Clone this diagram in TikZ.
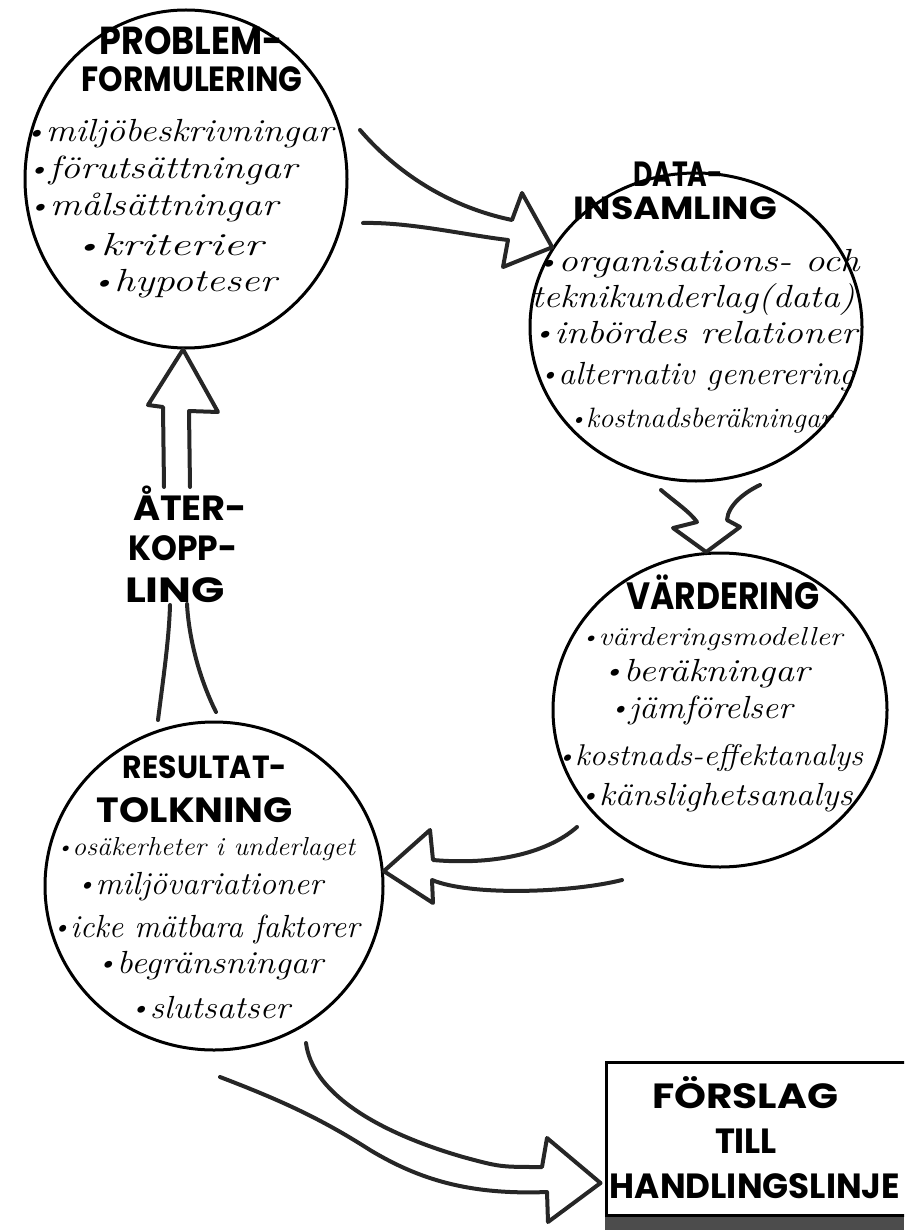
\documentclass[tikz,border=0pt]{standalone}
\usepackage{fontspec}
\usepackage{graphicx}
\usetikzlibrary{shapes.geometric,calc}
\newfontfamily\headfont{Poppins}
\newcommand{\itemfont}[1]{\fontsize{#1}{#1}\selectfont\itshape}
\newcommand{\capsfont}[1]{\fontsize{#1}{#1}\selectfont\headfont\bfseries}
\newcommand{\fitto}[2]{\resizebox{#1pt}{\height}{#2}}
\newcommand{\pt}{\raisebox{0.15ex}{\scalebox{0.75}{\textbullet}}}

\begin{document}
\begin{tikzpicture}[x=1pt,y=-1pt,
    ring/.style={draw,line width=3pt,ellipse,inner sep=0pt},
    entry/.style={anchor=base,inner sep=0pt,font=\itemfont{32}},
    heading/.style={anchor=base,inner sep=0pt,font=\capsfont{35}},
    fat/.style={draw=black!85,line width=4pt,line join=round,line cap=round}
]
\clip (0,0) rectangle (904,1230);
% the four stages and the result box
\node[ring,minimum width=322pt,minimum height=338pt] (problem) at (186,179) {};
\node[ring,minimum width=332pt,minimum height=308pt] (data) at (696,327) {};
\node[ring,minimum width=334pt,minimum height=314pt] (vard) at (720,710) {};
\node[ring,minimum width=338pt,minimum height=328pt] (result) at (214,886) {};
\node[draw,line width=3pt,minimum width=314pt,minimum height=153pt,inner sep=0pt] (forslag) at (763,1139) {};
\fill[black!70] (forslag.south west) rectangle (904,1230);

% problemformulering
\node[heading,font=\capsfont{39}] (p-h1) at (191,55) {\fitto{183}{PROBLEM-}};
\node[heading] (p-h2) at (192,92) {\fitto{221}{FORMULERING}};
\node[entry] (p-1) at (179,142) {\fitto{308}{\pt miljöbeskrivningar}};
\node[entry] (p-2) at (162,179) {\fitto{270}{\pt förutsättningar}};
\node[entry] (p-3) at (153,216) {\fitto{250}{\pt målsättningar}};
\node[entry] (p-4) at (169,256) {\fitto{188}{\pt kriterier}};
\node[entry] (p-5) at (184,292) {\fitto{185}{\pt hypoteser}};

% datainsamling
\node[heading] (d-h1) at (678,187) {\fitto{90}{DATA-}};
\node[heading,font=\capsfont{32}] (d-h2) at (675,220) {\fitto{204}{INSAMLING}};
\node[entry] (d-1) at (698,272) {\fitto{323}{\pt organisations- och}};
\node[entry] (d-2) at (693,307) {\fitto{323}{teknikunderlag(data)}};
\node[entry] (d-3) at (695,343) {\fitto{324}{\pt inbördes relationer}};
\node[entry] (d-4) at (697,384) {\fitto{315}{\pt alternativ generering}};
\node[entry,font=\itemfont{28}] (d-5) at (701,427) {\fitto{262}{\pt kostnadsberäkningar}};

% värdering
\node[heading,font=\capsfont{38}] (v-h1) at (723,609) {\fitto{193}{VÄRDERING}};
\node[entry,font=\itemfont{26}] (v-1) at (712,645) {\fitto{261}{\pt värderingsmodeller}};
\node[entry] (v-2) at (706,681) {\fitto{207}{\pt beräkningar}};
\node[entry] (v-3) at (701,718) {\fitto{183}{\pt jämförelser}};
\node[entry,font=\itemfont{30}] (v-4) at (710,765) {\fitto{306}{\pt kostnads-effektanalys}};
\node[entry] (v-5) at (716,805) {\fitto{273}{\pt känslighetsanalys}};

% resultattolkning
\node[heading,font=\capsfont{32}] (r-h1) at (205,778) {\fitto{164}{RESULTAT-}};
\node[heading] (r-h2) at (195,822) {\fitto{196}{TOLKNING}};
\node[entry,font=\itemfont{26}] (r-1) at (206,855) {\fitto{298}{\pt osäkerheter i underlaget}};
\node[entry] (r-2) at (200,894) {\fitto{246}{\pt miljövariationer}};
\node[entry] (r-3) at (206,937) {\fitto{307}{\pt icke mätbara faktorer}};
\node[entry] (r-4) at (210,973) {\fitto{226}{\pt begränsningar}};
\node[entry] (r-5) at (210,1018) {\fitto{160}{\pt slutsatser}};

% återkoppling
\node[heading] (k-1) at (190,520) {\fitto{114}{ÅTER-}};
\node[heading] (k-2) at (183,560) {\fitto{109}{KOPP-}};
\node[heading] (k-3) at (175,602) {\fitto{100}{LING}};

% förslag
\node[heading] (f-1) at (745,1108) {\fitto{186}{FÖRSLAG}};
\node[heading] (f-2) at (746,1153) {\fitto{62}{TILL}};
\node[heading] (f-3) at (755,1198) {\fitto{290}{HANDLINGSLINJE}};

% broad arrows
\coordinate (a1u) at (360,130);
\coordinate (a1l) at (363,223);
\draw[fat] (a1u) .. controls (390,165) and (440,205) .. (512,220) -- (522,193) -- (data.151)
    -- (503,267) -- (508,240) .. controls (465,235) and (410,222) .. (a1l);

\coordinate (a2l) at (661,490);
\coordinate (a2r) at (760,485);
\draw[fat] (a2l) .. controls (675,502) and (690,512) .. (697,522) -- (673,528) -- (vard.95)
    -- (740,527) -- (727,520) .. controls (728,505) and (745,492) .. (a2r);

\coordinate (a3u) at (577,827);
\coordinate (a3l) at (622,880);
\draw[fat] (a3u) .. controls (545,855) and (490,865) .. (433,860) -- (430,830) -- (result.5)
    -- (433,903) -- (432,880) .. controls (470,896) and (570,893) .. (a3l);

\coordinate (a4u) at (306,1043);
\coordinate (a4l) at (220,1077);
\draw[fat] (a4u) .. controls (312,1090) and (370,1130) .. (463,1157) .. controls (500,1167) .. (542,1167)
    -- (547,1138) -- ($(forslag.west)+(-4,44)$) -- (548,1222) -- (547,1192)
    .. controls (470,1195) and (420,1180) .. (370,1150) .. controls (320,1118) and (280,1100) .. (a4l);

% feedback arrow
\coordinate (b1) at (164,487);
\coordinate (b2) at (190,487);
\draw[fat] (b1) -- (163,407) -- (148,405) -- (problem.269) -- (218,412) -- (189,411) -- (b2);
\coordinate (b3) at (170,605);
\coordinate (b4) at (187,604);
\draw[fat] (158,720) .. controls (163,680) and (169,640) .. (b3);
\draw[fat] (216,712) .. controls (200,680) and (189,640) .. (b4);
\end{tikzpicture}
\end{document}
